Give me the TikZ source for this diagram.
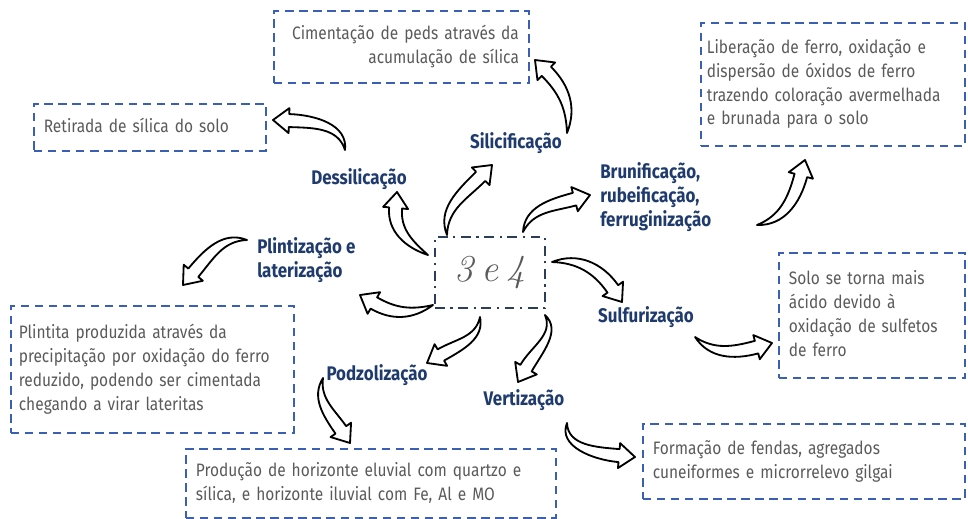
\documentclass[tikz,border=0pt]{standalone}
\usepackage{fontspec}
\setmainfont[FakeStretch=0.86]{Fira Sans}
\newfontfamily\lmit{Latin Modern Roman}
\usetikzlibrary{calc,positioning}
\definecolor{LblBlue}{HTML}{1F3B6E}
\definecolor{BoxBlue}{HTML}{3A5FB5}
\definecolor{TxtGray}{HTML}{5A5A5A}
\definecolor{CtrNavy}{HTML}{2B3D57}
% lines kept as typed (no wrapping)
\newcommand{\lns}[2][l]{\begin{tabular}{@{}#1@{}}#2\end{tabular}}
% curved block arrow: tail, out angle, heading at tip, tip
\newcommand{\sweep}[4]{%
  \pgfmathsetmacro\swA{#2+12}\pgfmathsetmacro\swB{#2-12}%
  \pgfmathsetmacro\swH{#3+180}\pgfmathsetmacro\swL{#3+90}\pgfmathsetmacro\swR{#3-90}%
  \draw[sweeparrow] (#1) to[out=\swA,in=\swH] ($(#4)+(\swH:16)+(\swL:6.5)$)
    -- ($(#4)+(\swH:16)+(\swL:12.5)$) -- (#4) -- ($(#4)+(\swH:16)+(\swR:12.5)$)
    -- ($(#4)+(\swH:16)+(\swR:6.5)$) to[out=\swH,in=\swB] (#1) -- cycle;}

\begin{document}
\begin{tikzpicture}[x=0.025cm, y=0.025cm,
  desc/.style={draw=BoxBlue, line width=1.2pt, dash pattern=on 6pt off 4pt, text=TxtGray, align=left,
    inner xsep=0.25cm, inner ysep=0pt, anchor=north west, font=\fontsize{12.8}{17}\selectfont},
  proc/.style={text=LblBlue, font=\bfseries\fontsize{14}{17}\selectfont, inner sep=0pt},
  sweeparrow/.style={draw=black, line width=1.3pt, fill=white, line join=round}
]
\useasboundingbox (0,0) rectangle (968,-519);

% centre
\node[draw=CtrNavy, line width=1.5pt, dash pattern=on 7pt off 4pt on 1.5pt off 4pt,
  minimum width=2.75cm, minimum height=1.775cm, text=TxtGray,
  font=\lmit\itshape\fontsize{27}{30}\selectfont] (ctr) at (490,-272.5) {3\hspace{0.2em}e\hspace{0.2em}4};

% processes
\node[proc] (dess) at (359,-179) {Dessilicação};
\node[proc] (sil) at (516,-143) {Silicificação};
\node[proc, align=left, anchor=west] (brun) at (600,-197) {Brunificação,\\rubeificação,\\ferruginização};
\node[proc] (sulf) at (646,-317) {Sulfurização};
\node[proc, align=left, anchor=west] (plint) at (257,-260) {Plintização e\\laterização};
\node[proc] (podz) at (377,-375) {Podzolização};
\node[proc] (vert) at (524,-400) {Vertização};

% descriptions
\node[desc, minimum width=5.8cm, minimum height=1.175cm, text width=5.3cm] (ret) at (33,-103)
  {\lns{Retirada de sílica do solo}};
\node[desc, minimum width=6.375cm, minimum height=1.8cm, text width=5.875cm, align=right] (cim) at (273,-10)
  {\lns[r]{Cimentação de peds através da\\acumulação de sílica}};
\node[desc, minimum width=6.6cm, minimum height=3.075cm, text width=6.3cm, inner xsep=0.15cm] (lib) at (700,-22)
  {\lns{Liberação de ferro, oxidação e\\dispersão de óxidos de ferro\\trazendo coloração avermelhada\\e brunada para o solo}};
\node[desc, minimum width=4.65cm, minimum height=3.125cm, text width=4.15cm] (solo) at (778,-252)
  {\lns{Solo se torna mais\\ácido devido à\\oxidação de sulfetos\\de ferro}};
\node[desc, minimum width=8.05cm, minimum height=1.875cm, text width=7.55cm] (form) at (642,-423)
  {\lns{Formação de fendas, agregados\\cuneiformes e microrrelevo gilgai}};
\node[desc, minimum width=9.25cm, minimum height=1.725cm, text width=8.75cm] (prod) at (185,-448)
  {\lns{Produção de horizonte eluvial com quartzo e\\sílica, e horizonte iluvial com Fe, Al e MO}};
\node[desc, minimum width=7.075cm, minimum height=3.175cm, text width=6.675cm, inner xsep=0.2cm] (plin) at (10,-305)
  {\lns{Plintita produzida através da\\precipitação por oxidação do ferro\\reduzido, podendo ser cimentada\\chegando a virar lateritas}};

% arrow ends
\coordinate (ctr-dess) at (428,-255);  \coordinate (dess-in) at (397,-192);
\coordinate (ctr-sil) at (447,-235);   \coordinate (sil-in) at (492,-165);
\coordinate (ctr-brun) at (523,-232);  \coordinate (brun-in) at (590,-195);
\coordinate (ctr-sulf) at (552,-262);  \coordinate (sulf-in) at (622,-302);
\coordinate (ctr-plint) at (433,-305); \coordinate (plint-in) at (360,-295);
\coordinate (ctr-podz) at (480,-317);  \coordinate (podz-in) at (427,-363);
\coordinate (ctr-vert) at (545,-315);  \coordinate (vert-in) at (518,-382);
\coordinate (dess-out) at (345,-150);  \coordinate (ret-in) at (273,-120);
\coordinate (sil-out) at (567,-133);   \coordinate (cim-in) at (535,-60);
\coordinate (brun-out) at (757,-225);  \coordinate (lib-in) at (805,-160);
\coordinate (plint-out) at (247,-240); \coordinate (plin-in) at (183,-285);
\coordinate (sulf-out) at (695,-337);  \coordinate (solo-in) at (772,-343);
\coordinate (podz-out) at (323,-378);  \coordinate (prod-in) at (350,-443);
\coordinate (vert-out) at (567,-423);  \coordinate (form-in) at (635,-457);

\sweep{ctr-dess}{150}{85}{dess-in}
\sweep{ctr-sil}{100}{45}{sil-in}
\sweep{ctr-brun}{75}{15}{brun-in}
\sweep{ctr-sulf}{10}{-55}{sulf-in}
\sweep{ctr-plint}{205}{150}{plint-in}
\sweep{ctr-podz}{-90}{-150}{podz-in}
\sweep{ctr-vert}{-55}{-120}{vert-in}
\sweep{dess-out}{95}{178}{ret-in}
\sweep{sil-out}{80}{135}{cim-in}
\sweep{brun-out}{10}{75}{lib-in}
\sweep{plint-out}{170}{230}{plin-in}
\sweep{sulf-out}{-45}{15}{solo-in}
\sweep{podz-out}{-110}{-55}{prod-in}
\sweep{vert-out}{-100}{-5}{form-in}
\end{tikzpicture}
\end{document}
